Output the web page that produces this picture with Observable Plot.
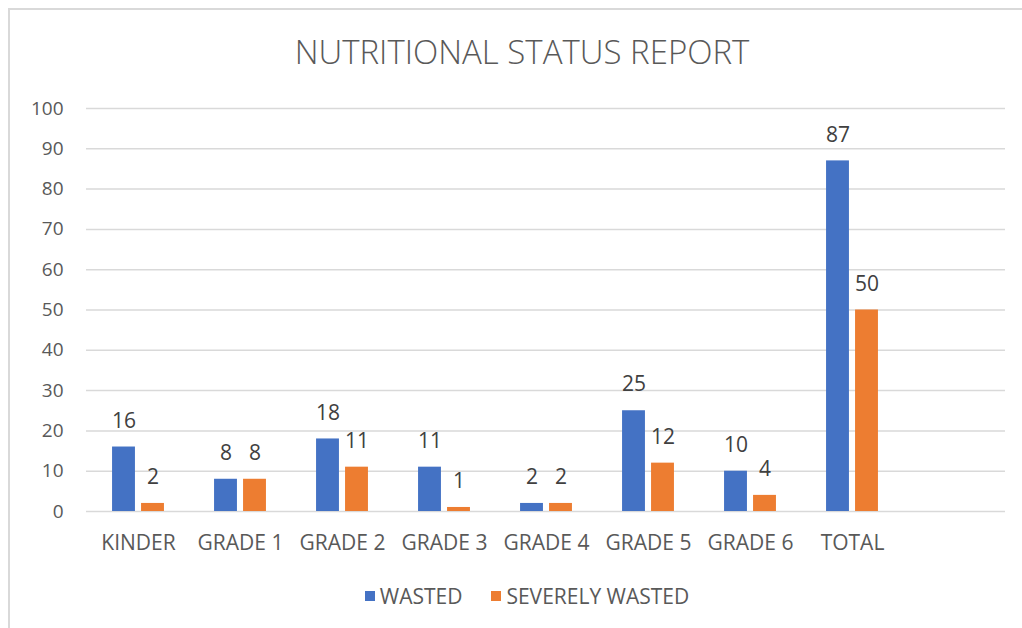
<!DOCTYPE html>
<html>
<head>
<meta charset="utf-8">
<script src="https://cdn.jsdelivr.net/npm/d3@7"></script>
<script src="https://cdn.jsdelivr.net/npm/@observablehq/plot@0.6"></script>
<style>
  html, body { margin: 0; padding: 0; background: #fff; }
  #frame { position: absolute; left: 8px; top: 8px; width: 1022px; height: 628px; z-index: 2; pointer-events: none;
           border-top: 2px solid #d9d9d9; border-left: 2px solid #d9d9d9; box-sizing: border-box; }
  #wrap { position: absolute; left: 0; top: 0; width: 1022px; height: 628px; font-family: "Open Sans", sans-serif; }
  #title { height: 80px; line-height: 104px; text-align: center; font-size: 33px; font-weight: 300; color: #595959;
           padding-left: 22px; }
  #legend { display: flex; justify-content: center; align-items: center; gap: 29px; height: 52px;
            font-size: 21px; color: #595959; padding-left: 32px; }
  .item { display: flex; align-items: center; gap: 5px; }
  .sw { width: 10px; height: 10px; display: inline-block; }
</style>
</head>
<body>
<div id="wrap">
  <div id="title">NUTRITIONAL STATUS REPORT</div>
  <div id="chart"></div>
  <div id="legend"></div>
</div>
<div id="frame"></div>
<script>
const categories = ["KINDER", "GRADE 1", "GRADE 2", "GRADE 3", "GRADE 4", "GRADE 5", "GRADE 6", "TOTAL"];
const emptySlot = [""];
const wasted = [16, 8, 18, 11, 2, 25, 10, 87];
const severelyWasted = [2, 8, 11, 1, 2, 12, 4, 50];
const seriesNames = ["WASTED", "SEVERELY WASTED"];
const seriesColors = ["#4472C4", "#ED7D31"];
const yTicks = [0, 10, 20, 30, 40, 50, 60, 70, 80, 90, 100];

const rowsW = categories.map((c, i) => ({category: c, value: wasted[i]}));
const rowsS = categories.map((c, i) => ({category: c, value: severelyWasted[i]}));

const width = 1022, marginLeft = 86, marginRight = 17;
const bandW = (width - marginLeft - marginRight) / (categories.length + emptySlot.length);
const barW = 23, gap = 6;
const innerIn = bandW / 2 + gap / 2;          // inset on the far side
const outerIn = bandW / 2 - gap / 2 - barW;   // inset on the near side
const off = gap / 2 + barW / 2;

const textColor = "#404040";
const chart = Plot.plot({
  width,
  height: 490,
  marginLeft, marginRight,
  marginTop: 28,
  marginBottom: 59,
  style: {fontFamily: "Open Sans, sans-serif", fontSize: "20px", color: "#595959", background: "transparent"},
  x: {type: "band", domain: [...categories, ...emptySlot], padding: 0, label: null, tickSize: 0, tickPadding: 24},
  y: {domain: [0, 100], ticks: yTicks, label: null, tickSize: 0, tickPadding: 23},
  marks: [
    Plot.gridY(yTicks, {stroke: "#d9d9d9", strokeOpacity: 1, strokeWidth: 1.5}),
    Plot.barY(rowsW, {x: "category", y: "value", fill: seriesColors[0], insetLeft: outerIn, insetRight: innerIn}),
    Plot.barY(rowsS, {x: "category", y: "value", fill: seriesColors[1], insetLeft: innerIn, insetRight: outerIn}),
    Plot.text(rowsW, {x: "category", y: "value", text: d => String(d.value), dx: -off, dy: -26, fill: textColor, fontSize: 21}),
    Plot.text(rowsS, {x: "category", y: "value", text: d => String(d.value), dx: off, dy: -26, fill: textColor, fontSize: 21}),
    Plot.axisX({tickSize: 0, tickPadding: 24, fontSize: 21, fill: "#595959"}),
    Plot.axisY({ticks: yTicks, tickSize: 0, tickPadding: 23, fontSize: 19, fill: "#595959"})
  ]
});
document.getElementById("chart").appendChild(chart);

const legend = document.getElementById("legend");
seriesNames.forEach((n, i) => {
  const it = document.createElement("div");
  it.className = "item";
  const sw = document.createElement("span");
  sw.className = "sw";
  sw.style.background = seriesColors[i];
  const t = document.createElement("span");
  t.textContent = n;
  it.appendChild(sw); it.appendChild(t);
  legend.appendChild(it);
});
</script>
</body>
</html>
